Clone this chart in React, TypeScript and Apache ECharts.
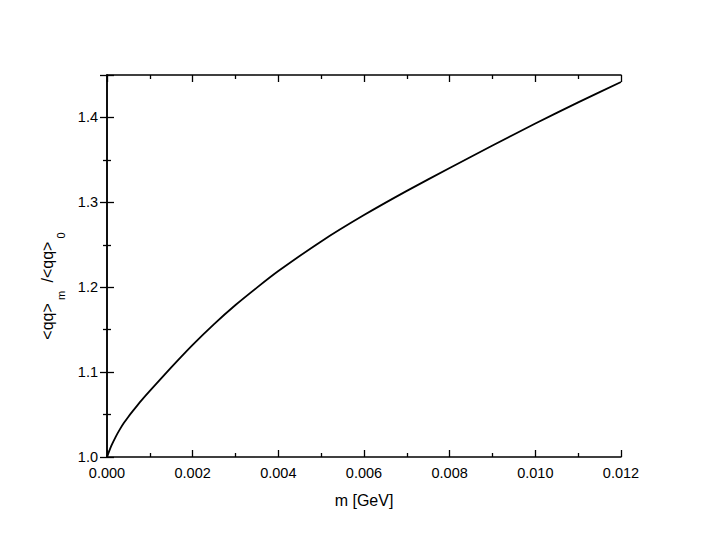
import React, { useEffect, useRef } from "react";
import * as echarts from "echarts";

const mValues = [0, 0.0001, 0.0002, 0.0003, 0.0004, 0.0005, 0.0006, 0.0008, 0.001, 0.0015, 0.002, 0.0025, 0.003, 0.0035, 0.004, 0.005, 0.006, 0.007, 0.008, 0.009, 0.01, 0.011, 0.012];
const ratioValues = [1.0, 1.013, 1.0235, 1.0325, 1.0405, 1.0475, 1.054, 1.0665, 1.078, 1.1055, 1.132, 1.1565, 1.179, 1.1995, 1.219, 1.254, 1.285, 1.3135, 1.3405, 1.367, 1.3928, 1.4178, 1.4418];
const xTicks = { min: 0, max: 0.012, interval: 0.002 };
const yTicks = { min: 1.0, max: 1.45, interval: 0.1 };

const FONT = "Liberation Sans, Arial, Helvetica, sans-serif";

export default function App() {
  const ref = useRef<HTMLDivElement>(null);
  useEffect(() => {
    if (!ref.current) return;
    const chart = echarts.init(ref.current, null, { renderer: "svg" });
    const axisLine = { show: true, lineStyle: { color: "#000", width: 1.5 } };
    const tick = { show: true, inside: true, length: 7, lineStyle: { color: "#000", width: 1.3 } };
    const minor = { show: true, splitNumber: 2, length: 4, lineStyle: { color: "#000", width: 1.3 } };
    chart.setOption({
      animation: false,
      backgroundColor: "#fff",
      grid: { left: 99, right: 79, top: 67, bottom: 89, containLabel: false },
      xAxis: [
        {
          type: "value",
          min: xTicks.min,
          max: xTicks.max,
          interval: xTicks.interval,
          name: "m [GeV]",
          nameLocation: "middle",
          nameGap: 35,
          nameTextStyle: { fontFamily: FONT, fontSize: 16, color: "#000" },
          axisLine,
          axisTick: tick,
          minorTick: minor,
          splitLine: { show: false },
          axisLabel: {
            fontFamily: FONT,
            fontSize: 14.5,
            color: "#000",
            margin: 8,
            formatter: (v: number) => v.toFixed(3),
          },
        },
        {
          type: "value",
          position: "top",
          min: xTicks.min,
          max: xTicks.max,
          interval: xTicks.interval,
          axisLine,
          axisTick: tick,
          minorTick: minor,
          splitLine: { show: false },
          axisLabel: { show: false },
        },
      ],
      yAxis: [
        {
          type: "value",
          min: yTicks.min,
          max: yTicks.max,
          interval: yTicks.interval,
          name: "{a|<qq>}{s| m}{a| /<qq>}{s| 0}",
          nameLocation: "middle",
          nameGap: 44,
          nameRotate: 90,
          nameTextStyle: {
            color: "#000",
            padding: [0, 36, 0, 0],
            rich: {
              a: { fontFamily: FONT, fontSize: 16, color: "#000", lineHeight: 22, verticalAlign: "middle" },
              s: { fontFamily: FONT, fontSize: 11, color: "#000", lineHeight: 22, verticalAlign: "bottom", padding: [0, 4, -8, 0] },
            },
          },
          axisLine,
          axisTick: tick,
          minorTick: minor,
          splitLine: { show: false },
          axisLabel: {
            fontFamily: FONT,
            fontSize: 14.5,
            color: "#000",
            margin: 9,
            showMaxLabel: false,
            formatter: (v: number) => v.toFixed(1),
          },
        },
        {
          type: "value",
          position: "right",
          min: yTicks.min,
          max: yTicks.max,
          interval: yTicks.interval,
          axisLine,
          axisTick: tick,
          minorTick: minor,
          splitLine: { show: false },
          axisLabel: { show: false },
        },
      ],
      series: [
        {
          type: "line",
          xAxisIndex: 0,
          yAxisIndex: 0,
          data: mValues.map((m, i) => [m, ratioValues[i]]),
          showSymbol: false,
          smooth: 0.2,
          lineStyle: { color: "#000", width: 1.8 },
        },
      ],
    });
    return () => chart.dispose();
  }, []);
  return <div ref={ref} style={{ width: 692, height: 538 }} />;
}
